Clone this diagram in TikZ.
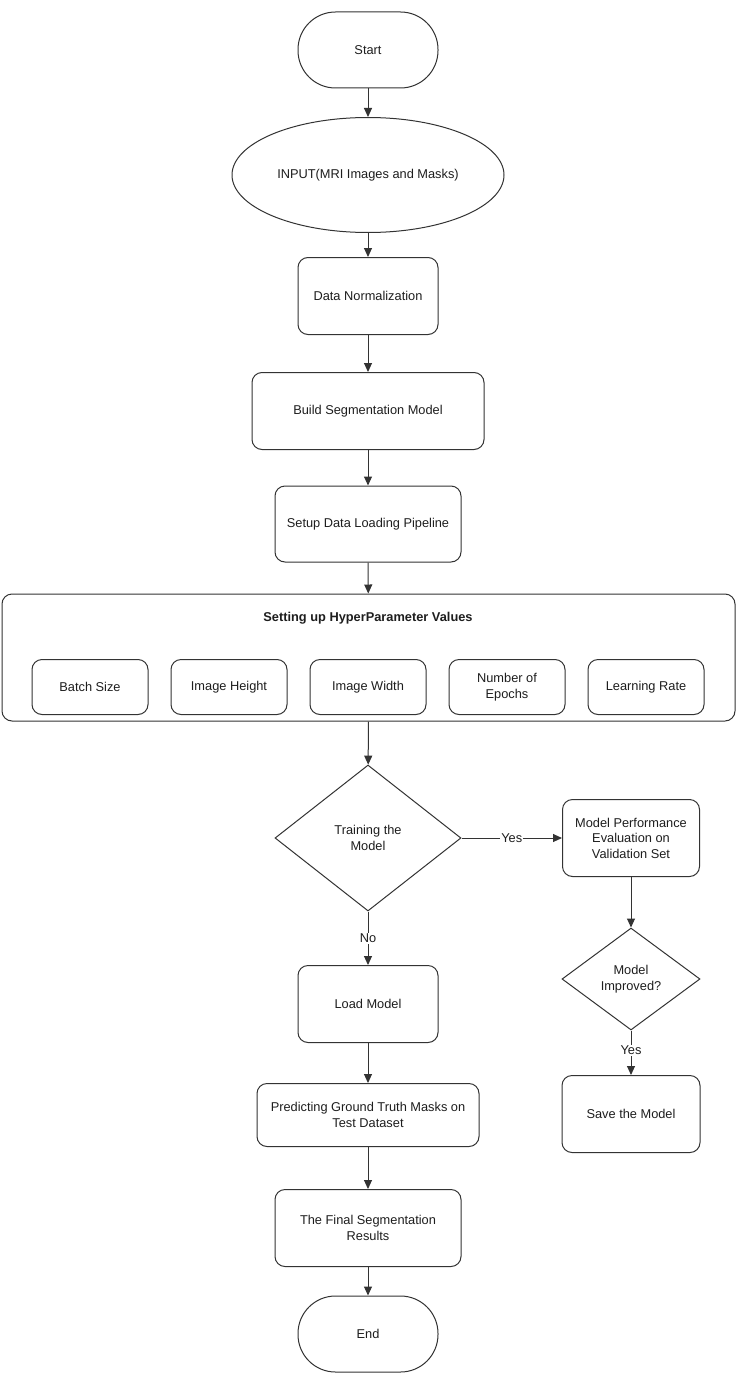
\documentclass[tikz,border=0pt]{standalone}
\usepackage{fontspec}
\setmainfont{Liberation Sans}
\usetikzlibrary{shapes.geometric,arrows.meta}
\definecolor{lc}{HTML}{333333}
\definecolor{tc}{HTML}{1E1E1E}
\begin{document}
\begin{tikzpicture}[x=1pt,y=-1pt,
  every node/.style={font=\fontsize{12.8}{15.5}\selectfont, text=tc, align=center, inner sep=0pt},
  base/.style={draw=lc, line width=1pt, fill=white},
  rbox/.style={base, rounded corners=10pt, minimum width=#1},
  rbox/.default=140pt,
  term/.style={base, rounded corners=37.5pt, minimum width=140pt, minimum height=76pt},
  oval/.style={base, ellipse, minimum width=272pt, minimum height=115pt},
  dia/.style={base, diamond, aspect=1.27},
  arr/.style={draw=lc, line width=1pt, -{Triangle[length=9pt,width=8pt]}},
  lab/.style={fill=white, inner sep=1pt}
]
\useasboundingbox (0,0) rectangle (738,1386);
\fill[white] (0,0) rectangle (738,1386);

\node[term] (start) at (368,50) {Start};
\node[oval] (input) at (368,175) {INPUT(MRI Images and Masks)};
\node[rbox=140pt, minimum height=77pt] (norm) at (368,296) {Data Normalization};
\node[rbox=232pt, minimum height=77pt] (build) at (368,411) {Build Segmentation Model};
\node[rbox=186pt, minimum height=76pt] (setup) at (368,524) {Setup Data Loading Pipeline};

\node[rbox=733pt, minimum height=127pt] (hyper) at (368.5,657.5) {};
\node[font=\bfseries\fontsize{12.8}{15.5}\selectfont] (htitle) at (368,618) {Setting up HyperParameter Values};
\node[rbox=116pt, minimum height=55pt] (bs) at (90,687) {Batch Size};
\node[rbox=116pt, minimum height=55pt] (ih) at (229,687) {Image Height};
\node[rbox=116pt, minimum height=55pt] (iw) at (368,687) {Image Width};
\node[rbox=116pt, minimum height=55pt] (ne) at (507,687) {Number of\\Epochs};
\node[rbox=116pt, minimum height=55pt] (lr) at (646,687) {Learning Rate};

\node[dia, minimum width=186pt, minimum height=146pt, aspect=1.274] (train) at (368,838) {Training the\\Model};
\node[rbox=137pt, minimum height=77pt] (eval) at (631,838) {Model Performance\\Evaluation on\\Validation Set};
\node[dia, minimum width=138pt, minimum height=102pt, aspect=1.35] (impr) at (631,979) {Model\\Improved?};
\node[rbox=138pt, minimum height=77pt] (save) at (631,1114) {Save the Model};

\node[rbox=140pt, minimum height=77pt] (load) at (368,1004) {Load Model};
\node[rbox=222pt, minimum height=63pt] (pred) at (368,1115) {Predicting Ground Truth Masks on\\Test Dataset};
\node[rbox=186pt, minimum height=77pt] (final) at (368,1228) {The Final Segmentation\\Results};
\node[term] (end) at (368,1334) {End};

\draw[arr] (start) -- (input);
\draw[arr] (input) -- (norm);
\draw[arr] (norm) -- (build);
\draw[arr] (build) -- (setup);
\draw[arr] (setup) -- (hyper);
\draw[arr] (hyper) -- (train);
\draw[arr] (train) -- node[lab] {Yes} (eval);
\draw[arr] (eval) -- (impr);
\draw[arr] (impr) -- node[lab, pos=0.45] {Yes} (save);
\draw[arr] (train) -- node[lab, pos=0.5] {No} (load);
\draw[arr] (load) -- (pred);
\draw[arr] (pred) -- (final);
\draw[arr] (final) -- (end);
\end{tikzpicture}
\end{document}
